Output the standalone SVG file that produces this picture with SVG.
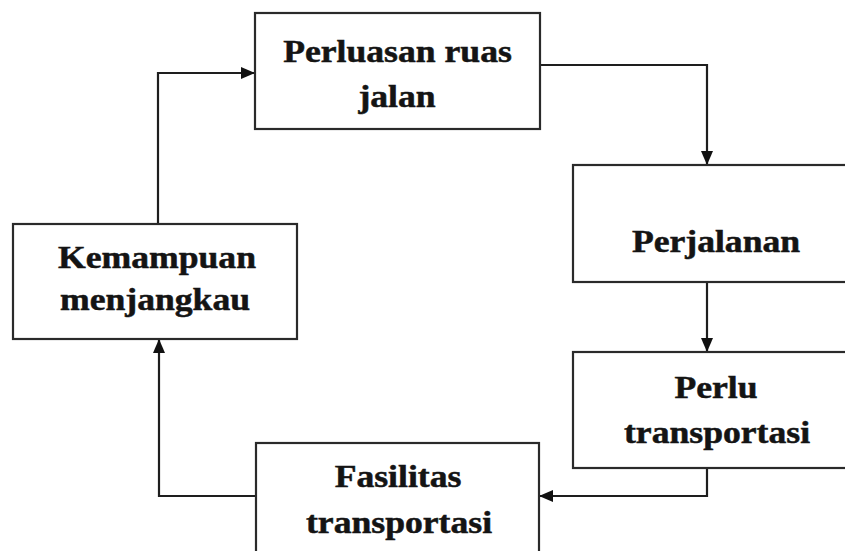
<svg xmlns="http://www.w3.org/2000/svg" width="845" height="551" viewBox="0 0 845 551">
<style>
.box{fill:#ffffff;stroke:#2a2a2a;stroke-width:2.2}
.lbl{font-family:"Liberation Serif","Times New Roman",serif;font-weight:bold;font-size:31px;fill:#141414;stroke:#141414;stroke-width:0.5;text-anchor:middle}
.edge{fill:none;stroke:#1e1e1e;stroke-width:2.2}
</style>
<defs>
<marker id="arr" markerUnits="userSpaceOnUse" markerWidth="14" markerHeight="14" viewBox="0 0 14 14" refX="13" refY="7" orient="auto">
<path d="M0,1 L14,7 L0,13 Z" fill="#111"/>
</marker>
</defs>
<rect width="845" height="551" fill="#ffffff"/>
<g id="connectors">
<path class="edge" d="M540,65 H707 V164" marker-end="url(#arr)"/>
<path class="edge" d="M707,282 V351" marker-end="url(#arr)"/>
<path class="edge" d="M707,468 V496 H540" marker-end="url(#arr)"/>
<path class="edge" d="M256,496 H159 V340" marker-end="url(#arr)"/>
<path class="edge" d="M158,224 V73 H254" marker-end="url(#arr)"/>
</g>
<g id="perluasan">
<rect class="box" x="255" y="13" width="285" height="116"/>
<text class="lbl" transform="translate(397.5 62) scale(1.15 1)">Perluasan ruas</text>
<text class="lbl" transform="translate(397 107) scale(1.15 1)">jalan</text>
</g>
<g id="perjalanan">
<rect class="box" x="573" y="165" width="290" height="117"/>
<text class="lbl" transform="translate(716 252) scale(1.15 1)">Perjalanan</text>
</g>
<g id="perlu">
<rect class="box" x="573" y="352" width="290" height="116"/>
<text class="lbl" transform="translate(716 398) scale(1.15 1)">Perlu</text>
<text class="lbl" transform="translate(717 443) scale(1.15 1)">transportasi</text>
</g>
<g id="fasilitas">
<rect class="box" x="256" y="443" width="283" height="130"/>
<text class="lbl" transform="translate(398 487) scale(1.15 1)">Fasilitas</text>
<text class="lbl" transform="translate(399 533) scale(1.15 1)">transportasi</text>
</g>
<g id="kemampuan">
<rect class="box" x="13" y="224" width="284" height="115"/>
<text class="lbl" transform="translate(157 268) scale(1.15 1)">Kemampuan</text>
<text class="lbl" transform="translate(155 310) scale(1.15 1)">menjangkau</text>
</g>
</svg>
